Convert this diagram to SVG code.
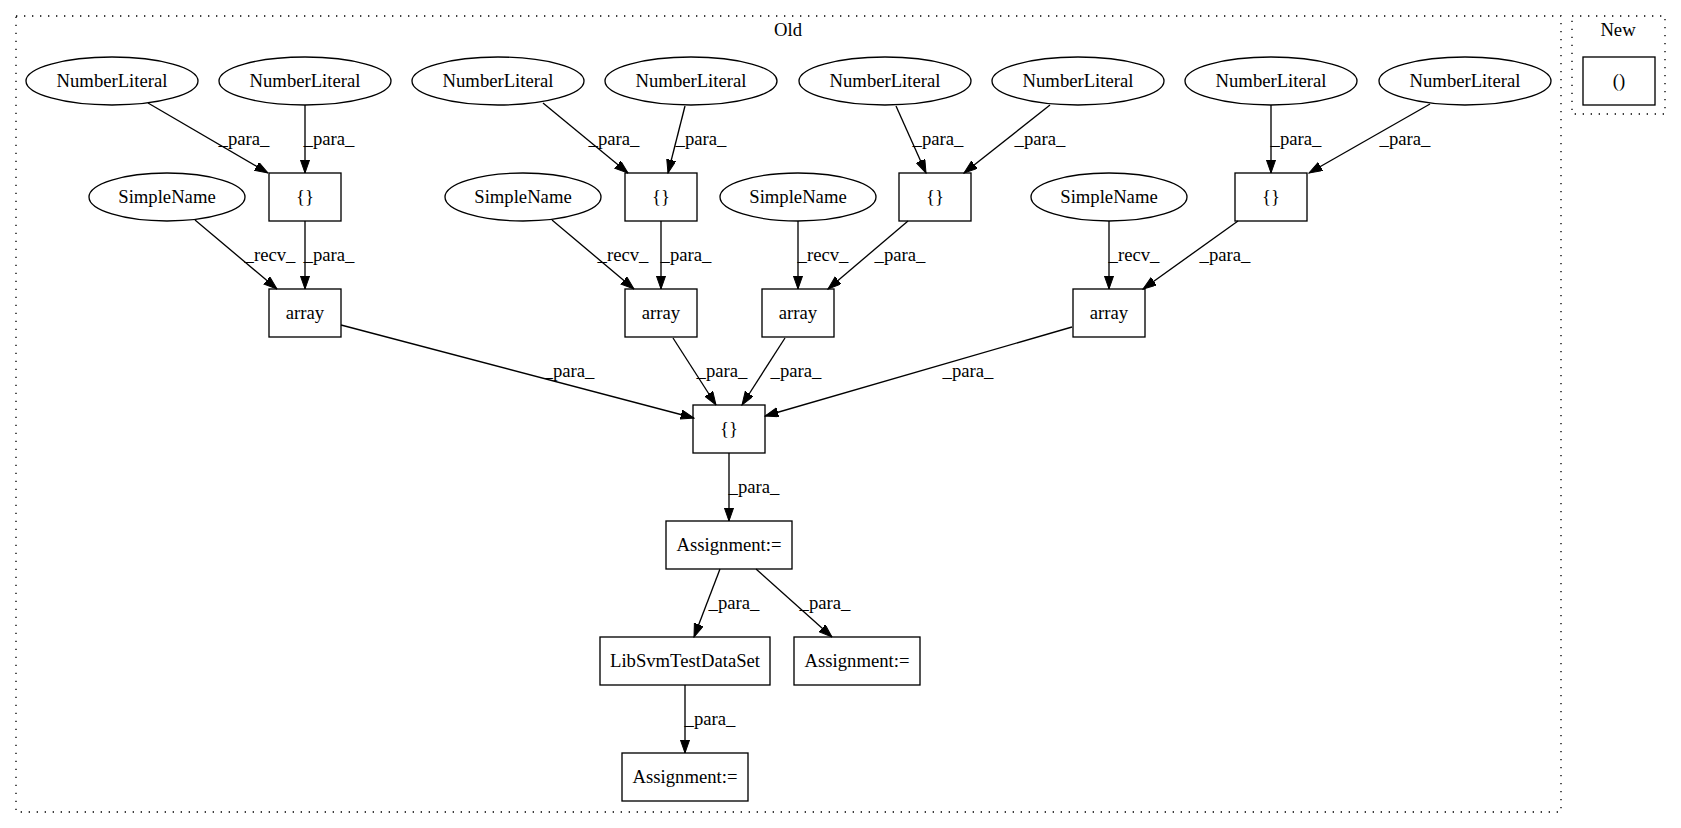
<svg xmlns="http://www.w3.org/2000/svg" width="1681" height="828" viewBox="0 0 1681 828">
<style>
text{font-family:"Liberation Serif","Times New Roman",serif;font-size:18.67px;fill:#000;text-anchor:middle}
.n ellipse,.n rect{fill:none;stroke:#000;stroke-width:1.33}
.cl{fill:none;stroke:#000;stroke-width:1.33;stroke-dasharray:1.33,6.67}
.e line{stroke:#000;stroke-width:1.33;marker-end:url(#ah)}
</style>
<defs>
<marker id="ah" markerUnits="userSpaceOnUse" markerWidth="14" markerHeight="10" refX="13.3" refY="4.67" orient="auto">
<path d="M0,0 L13.3,4.67 L0,9.33 z" fill="#000" stroke="#000" stroke-width="1"/>
</marker>
</defs>
<rect x="0" y="0" width="1681" height="828" fill="#fff"/>
<g id="cluster_old">
<rect class="cl" x="16" y="16" width="1545" height="796"/>
<text x="788" y="36">Old</text>
</g>
<g id="cluster_new">
<rect class="cl" x="1572" y="16" width="93" height="98"/>
<text x="1618" y="36">New</text>
</g>
<g id="connectors">
<g class="e">
<line x1="148" y1="103" x2="268" y2="173"/>
<line x1="305" y1="105" x2="305" y2="173"/>
<line x1="195" y1="220" x2="277" y2="289"/>
<line x1="305" y1="221" x2="305" y2="289"/>
<line x1="543" y1="103" x2="628" y2="173"/>
<line x1="685" y1="106" x2="668" y2="173"/>
<line x1="552" y1="220" x2="634" y2="289"/>
<line x1="661" y1="221" x2="661" y2="289"/>
<line x1="896" y1="106" x2="926" y2="173"/>
<line x1="1050" y1="105" x2="964" y2="173"/>
<line x1="798" y1="221" x2="798" y2="289"/>
<line x1="908" y1="221" x2="828" y2="289"/>
<line x1="1271" y1="105" x2="1271" y2="173"/>
<line x1="1430" y1="104" x2="1309" y2="173"/>
<line x1="1109" y1="221" x2="1109" y2="289"/>
<line x1="1238" y1="221" x2="1143" y2="289"/>
<line x1="341" y1="325" x2="694" y2="418"/>
<line x1="673" y1="338" x2="716" y2="405"/>
<line x1="785" y1="338" x2="742" y2="405"/>
<line x1="1072" y1="327" x2="765" y2="416"/>
<line x1="729" y1="453" x2="729" y2="521"/>
<line x1="720" y1="569" x2="694" y2="637"/>
<line x1="756" y1="569" x2="832" y2="637"/>
<line x1="685" y1="685" x2="685" y2="753"/>
</g>
<g id="edge-labels">
<text x="244" y="145">_para_</text>
<text x="329" y="145">_para_</text>
<text x="270" y="261">_recv_</text>
<text x="329" y="261">_para_</text>
<text x="614" y="145">_para_</text>
<text x="701" y="145">_para_</text>
<text x="623" y="261">_recv_</text>
<text x="686" y="261">_para_</text>
<text x="938" y="145">_para_</text>
<text x="1040" y="145">_para_</text>
<text x="823" y="261">_recv_</text>
<text x="900" y="261">_para_</text>
<text x="1296" y="145">_para_</text>
<text x="1405" y="145">_para_</text>
<text x="1134" y="261">_recv_</text>
<text x="1225" y="261">_para_</text>
<text x="569" y="377">_para_</text>
<text x="722" y="377">_para_</text>
<text x="796" y="377">_para_</text>
<text x="968" y="377">_para_</text>
<text x="754" y="493">_para_</text>
<text x="734" y="609">_para_</text>
<text x="825" y="609">_para_</text>
<text x="710" y="725">_para_</text>
</g>
</g>
<g id="nl1" class="n"><ellipse cx="112" cy="81" rx="86" ry="24"/><text x="112" y="87">NumberLiteral</text></g>
<g id="nl2" class="n"><ellipse cx="305" cy="81" rx="86" ry="24"/><text x="305" y="87">NumberLiteral</text></g>
<g id="nl3" class="n"><ellipse cx="498" cy="81" rx="86" ry="24"/><text x="498" y="87">NumberLiteral</text></g>
<g id="nl4" class="n"><ellipse cx="691" cy="81" rx="86" ry="24"/><text x="691" y="87">NumberLiteral</text></g>
<g id="nl5" class="n"><ellipse cx="885" cy="81" rx="86" ry="24"/><text x="885" y="87">NumberLiteral</text></g>
<g id="nl6" class="n"><ellipse cx="1078" cy="81" rx="86" ry="24"/><text x="1078" y="87">NumberLiteral</text></g>
<g id="nl7" class="n"><ellipse cx="1271" cy="81" rx="86" ry="24"/><text x="1271" y="87">NumberLiteral</text></g>
<g id="nl8" class="n"><ellipse cx="1465" cy="81" rx="86" ry="24"/><text x="1465" y="87">NumberLiteral</text></g>
<g id="sn1" class="n"><ellipse cx="167" cy="197" rx="78" ry="24"/><text x="167" y="203">SimpleName</text></g>
<g id="sn2" class="n"><ellipse cx="523" cy="197" rx="78" ry="24"/><text x="523" y="203">SimpleName</text></g>
<g id="sn3" class="n"><ellipse cx="798" cy="197" rx="78" ry="24"/><text x="798" y="203">SimpleName</text></g>
<g id="sn4" class="n"><ellipse cx="1109" cy="197" rx="78" ry="24"/><text x="1109" y="203">SimpleName</text></g>
<g id="br1" class="n"><rect x="269" y="173" width="72" height="48"/><text x="305" y="203">{}</text></g>
<g id="br2" class="n"><rect x="625" y="173" width="72" height="48"/><text x="661" y="203">{}</text></g>
<g id="br3" class="n"><rect x="899" y="173" width="72" height="48"/><text x="935" y="203">{}</text></g>
<g id="br4" class="n"><rect x="1235" y="173" width="72" height="48"/><text x="1271" y="203">{}</text></g>
<g id="arr1" class="n"><rect x="269" y="289" width="72" height="48"/><text x="305" y="319">array</text></g>
<g id="arr2" class="n"><rect x="625" y="289" width="72" height="48"/><text x="661" y="319">array</text></g>
<g id="arr3" class="n"><rect x="762" y="289" width="72" height="48"/><text x="798" y="319">array</text></g>
<g id="arr4" class="n"><rect x="1073" y="289" width="72" height="48"/><text x="1109" y="319">array</text></g>
<g id="brc" class="n"><rect x="693" y="405" width="72" height="48"/><text x="729" y="435">{}</text></g>
<g id="asg1" class="n"><rect x="666" y="521" width="126" height="48"/><text x="729" y="551">Assignment:=</text></g>
<g id="lib" class="n"><rect x="600" y="637" width="170" height="48"/><text x="685" y="667">LibSvmTestDataSet</text></g>
<g id="asg2" class="n"><rect x="794" y="637" width="126" height="48"/><text x="857" y="667">Assignment:=</text></g>
<g id="asg3" class="n"><rect x="622" y="753" width="126" height="48"/><text x="685" y="783">Assignment:=</text></g>
<g id="paren" class="n"><rect x="1583" y="57" width="72" height="48"/><text x="1619" y="87">()</text></g>
</svg>
